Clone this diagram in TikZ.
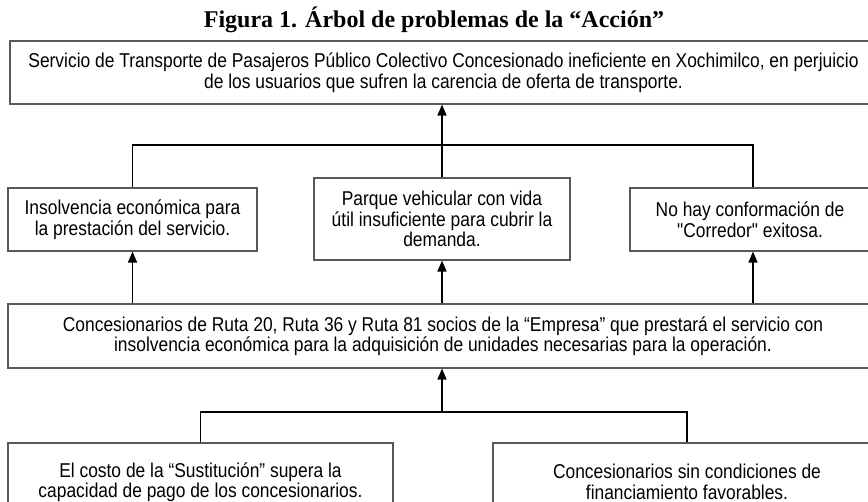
\documentclass[tikz,border=0pt]{standalone}
\usepackage{fontspec}
\setmainfont{Liberation Sans}[FakeStretch=0.87]
\newfontfamily\straightq{Liberation Sans}[FakeStretch=0.87,Ligatures=TeXOff]
\newfontfamily\titlefont{Liberation Serif}
\usetikzlibrary{arrows.meta}
\begin{document}
\begin{tikzpicture}[x=1pt,y=-1pt,
  box/.style={draw=black!65, line width=1.1pt, fill=white, align=center, inner sep=0pt,
    font=\fontsize{20}{20.5}\selectfont},
  con/.style={line width=1.5pt, draw=black},
  arr/.style={con, -{Triangle[length=11pt,width=9pt]}}]
\useasboundingbox (0,0) rectangle (868,502);
\clip (0,0) rectangle (868,502);
\node[font=\titlefont\bfseries\fontsize{24}{26}\selectfont, anchor=base] (title) at (434,28)
  {Figura 1. Árbol de problemas de la “Acción”};
\node[box, minimum width=867pt, minimum height=63pt] (top) at (443.5,72.5)
  {Servicio de Transporte de Pasajeros Público Colectivo Concesionado ineficiente en Xochimilco, en perjuicio\\
   de los usuarios que sufren la carencia de oferta de transporte.};
\node[box, minimum width=249pt, minimum height=63pt] (left) at (132.5,219.5)
  {Insolvencia económica para\\la prestación del servicio.};
\node[box, minimum width=256pt, minimum height=82pt] (mid) at (442,219)
  {Parque vehicular con vida\\útil insuficiente para cubrir la\\demanda.};
\node[box, minimum width=240pt, minimum height=63pt] (right) at (750,219.5)
  {No hay conformación de\\{\straightq"}Corredor{\straightq"} exitosa.};
\node[box, minimum width=870pt, minimum height=64pt] (conc) at (443,336)
  {Concesionarios de Ruta 20, Ruta 36 y Ruta 81 socios de la “Empresa” que prestará el servicio con\\
   insolvencia económica para la adquisición de unidades necesarias para la operación.};
\node[box, minimum width=385pt, minimum height=78pt] (bl) at (200.5,482)
  {El costo de la “Sustitución” supera la\\capacidad de pago de los concesionarios.};
\node[box, minimum width=388pt, minimum height=78pt] (br) at (687,482)
  {Concesionarios sin condiciones de\\financiamiento favorables.};
% upper tree
\coordinate (tj) at (442,145);
\coordinate (rx) at (753,0);
\draw[con] (left.north) |- (tj) -| (rx |- right.north);
\draw[arr] (mid.north) -- (top.south -| mid.north);
% middle arrows
\draw[arr] (conc.north -| left.south) -- (left.south);
\draw[arr] (conc.north -| mid.south) -- (mid.south);
\draw[arr] (conc.north -| rx) -- (rx |- right.south);
% lower tree
\coordinate (bj) at (442,412);
\draw[con] (bl.north) |- (bj) -| (br.north);
\draw[arr] (bj) -- (conc.south -| bj);
\end{tikzpicture}
\end{document}
